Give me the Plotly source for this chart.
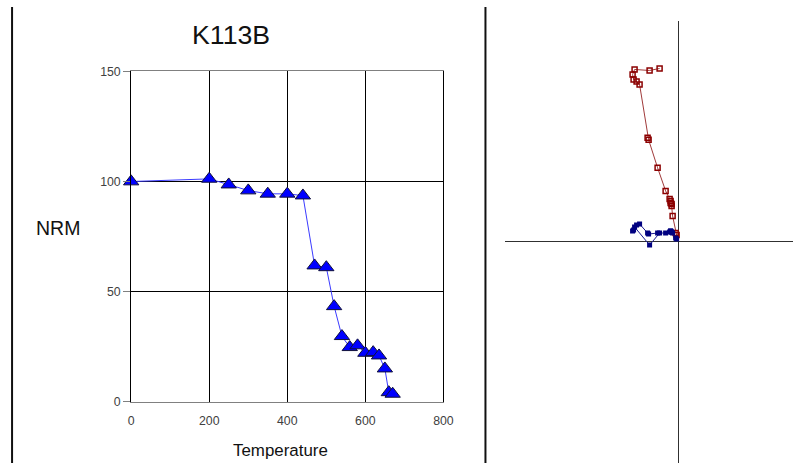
import plotly.graph_objects as go

# Screen-to-figure calibration: the captured page maps figure pixels to
# screen pixels as screen = S * (figure + O)
SX, OX = 0.983, 3.0
SY, OY = 0.967, 8.0
SCREEN_W, SCREEN_H = 793, 463
W = round(SCREEN_W / SX - OX)
H = round(SCREEN_H / SY - OY)

# Demagnetisation steps and remanence intensity (NRM, % of initial)
temperature = [0, 200, 250, 300, 350, 400, 440, 470, 500, 520, 540,
               560, 580, 600, 620, 635, 650, 660, 670]
nrm = [100.0, 101.2, 98.6, 95.9, 94.4, 94.4, 93.6, 61.8, 61.0, 43.3, 29.7,
       24.7, 25.5, 22.1, 22.4, 20.9, 15.0, 4.2, 3.5]

# Orthogonal vector projections (arbitrary units), one point per step
north = [-19, -29, -44, -46, -45, -42, -39, -31, -30, -21, -13,
         -9, -8, -7, -8, -7, -6, -3, -2]
up = [172, 170, 171, 166, 161, 159, 156, 103, 101, 73, 50,
      42, 40, 37, 38, 35, 25, 8, 6]
east = [8, -4, 14, 10, 11, 16, 17, 8, 7, 8, 8,
        9, 10, 9, 10, 9, 8, 3, 2]

x_ticks = [0, 200, 400, 600, 800]
y_ticks = [0, 50, 100, 150]


def px(x):
    """Screen x pixel -> paper fraction."""
    return (x / SX - OX) / W


def py(y):
    """Screen y pixel (from top) -> paper fraction."""
    return 1 - (y / SY - OY) / H


def fs(size):
    """Screen font/marker size -> figure size."""
    return round(size / ((SX + SY) / 2), 1)


# Screen position of the vector-diagram origin and the figure's far edges
ORIGIN_X, ORIGIN_Y = 678, 241
EDGE_X = (W + OX) * SX
EDGE_Y = (H + OY) * SY

fig = go.Figure()

# Intensity decay curve
fig.add_trace(go.Scatter(
    x=temperature, y=nrm, mode="lines+markers",
    line=dict(color="#3a3aff", width=1),
    marker=dict(symbol="triangle-up", size=fs(13), color="#0000ff",
                line=dict(color="#10103a", width=1)),
    cliponaxis=False, xaxis="x", yaxis="y", showlegend=False,
))

# Vector endpoint diagram: vertical and horizontal projections
fig.add_trace(go.Scatter(
    x=north, y=up, mode="lines+markers",
    line=dict(color="#a03a3a", width=1),
    marker=dict(symbol="square-open", size=5, color="#8b0000",
                line=dict(color="#8b0000", width=1.5)),
    xaxis="x2", yaxis="y2", showlegend=False,
))
fig.add_trace(go.Scatter(
    x=north, y=east, mode="lines+markers",
    line=dict(color="#1a1a90", width=1),
    marker=dict(symbol="square", size=5, color="#000080",
                line=dict(color="#000080", width=0)),
    xaxis="x2", yaxis="y2", showlegend=False,
))

label_font = "Liberation Sans, Arial, sans-serif"
tick_font = dict(family=label_font, size=fs(12), color="#404040")

fig.update_layout(
    width=W, height=H,
    margin=dict(l=0, r=0, t=0, b=0),
    paper_bgcolor="white", plot_bgcolor="white",
    xaxis=dict(
        domain=[px(131), px(443)], range=[0, 800],
        tickvals=x_ticks, ticktext=[str(v) for v in x_ticks],
        showgrid=True, gridcolor="black", gridwidth=1,
        zeroline=False, showline=True, linecolor="#808080", linewidth=1,
        mirror=True, ticks="", tickfont=tick_font, ticklabelstandoff=8,
        anchor="y", fixedrange=True,
    ),
    yaxis=dict(
        domain=[py(401), py(72)], range=[0, 150],
        tickvals=y_ticks, ticktext=[str(v) for v in y_ticks],
        showgrid=True, gridcolor="black", gridwidth=1,
        zeroline=False, showline=True, linecolor="black", linewidth=1,
        mirror=True, ticks="outside", ticklen=7, tickcolor="#808080",
        tickfont=tick_font, anchor="x", fixedrange=True,
    ),
    xaxis2=dict(
        domain=[px(505), 1.0], range=[505 - ORIGIN_X, EDGE_X - ORIGIN_X],
        showgrid=False, showticklabels=False, ticks="",
        zeroline=True, zerolinecolor="#303030", zerolinewidth=1,
        showline=False, anchor="y2", fixedrange=True,
    ),
    yaxis2=dict(
        domain=[0.0, py(22)], range=[ORIGIN_Y - EDGE_Y, ORIGIN_Y - 22],
        showgrid=False, showticklabels=False, ticks="",
        zeroline=True, zerolinecolor="#303030", zerolinewidth=1,
        showline=False, anchor="x2", fixedrange=True,
    ),
    shapes=[
        dict(type="line", xref="paper", yref="paper",
             x0=px(12), x1=px(12), y0=0, y1=min(1.0, py(6)),
             line=dict(color="#101010", width=2)),
        dict(type="line", xref="paper", yref="paper",
             x0=px(485), x1=px(485), y0=0, y1=min(1.0, py(6)),
             line=dict(color="#101010", width=2)),
    ],
    annotations=[
        dict(text="K113B", xref="paper", yref="paper", x=px(231), y=py(36),
             showarrow=False, xanchor="center", yanchor="middle",
             font=dict(family=label_font, size=fs(26), color="#111111")),
        dict(text="NRM", xref="paper", yref="paper", x=px(58), y=py(228),
             showarrow=False, xanchor="center", yanchor="middle",
             font=dict(family=label_font, size=fs(19), color="#111111")),
        dict(text="Temperature", xref="paper", yref="paper", x=px(280), y=py(450),
             showarrow=False, xanchor="center", yanchor="middle",
             font=dict(family=label_font, size=fs(16.5), color="#111111")),
    ],
)

fig.write_html("out.html")
